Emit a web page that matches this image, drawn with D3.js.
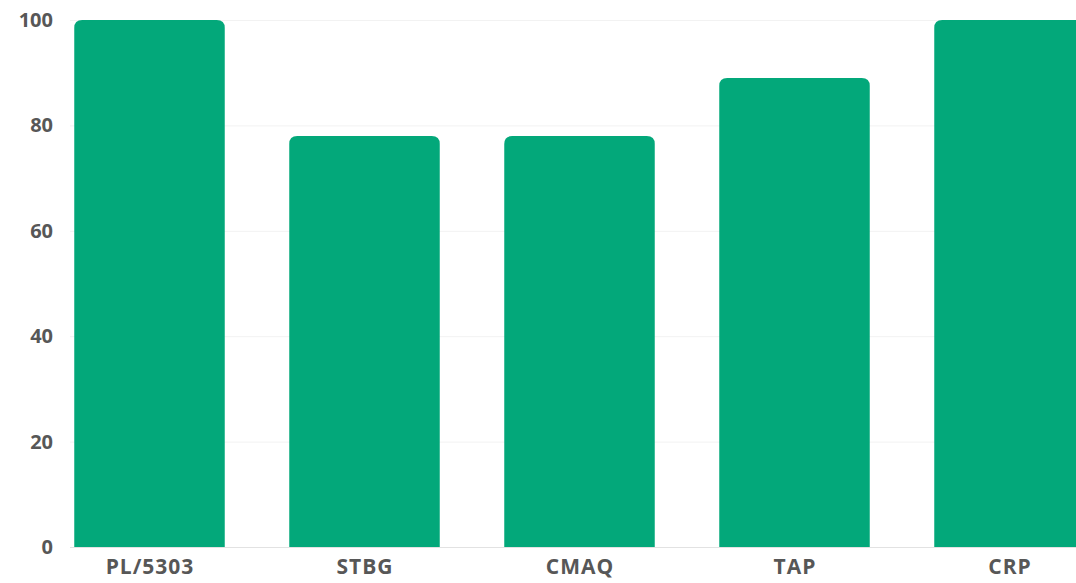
<!DOCTYPE html>
<html>
<head>
<meta charset="utf-8">
<script src="https://cdn.jsdelivr.net/npm/d3@7"></script>
<style>
  html, body { margin: 0; padding: 0; background: #fff; }
  svg { display: block; }
  .tick text { font-family: "Open Sans", sans-serif; font-weight: 700; font-size: 20px; fill: #575757; }
  .x-axis .tick text { font-size: 21px; letter-spacing: 1px; }
</style>
</head>
<body>
<svg id="chart" width="1076" height="583"></svg>
<script>
const categories = ['PL/5303', 'STBG', 'CMAQ', 'TAP', 'CRP']
const values = [100, 78, 78, 89, 100]
const yTicks = [0, 20, 40, 60, 80, 100]

const width = 1076
const height = 583
const svg = d3.select('#chart')

const x = d3.scaleBand()
  .domain(categories)
  .range([42, 1117])
  .paddingInner(0.3)
  .paddingOuter(0.15)

const y = d3.scaleLinear()
  .domain([0, 100])
  .range([547, 20])

// gridlines
svg.append('g')
  .selectAll('line')
  .data(yTicks)
  .enter()
  .append('line')
  .attr('x1', 70)
  .attr('x2', width)
  .attr('y1', d => y(d) + 0.5)
  .attr('y2', d => y(d) + 0.5)
  .attr('stroke', d => d === 0 ? '#e2e2e2' : '#f2f2f2')
  .attr('stroke-width', 1)

// bars with rounded tops
const r = 8
const barPath = d => {
  const x0 = x(d.name)
  const w = x.bandwidth()
  const y0 = y(d.value)
  const yb = y(0)
  return `M${x0},${yb}V${y0 + r}Q${x0},${y0} ${x0 + r},${y0}H${x0 + w - r}Q${x0 + w},${y0} ${x0 + w},${y0 + r}V${yb}Z`
}
svg.append('g')
  .selectAll('path')
  .data(categories.map((name, i) => ({ name, value: values[i] })))
  .enter()
  .append('path')
  .attr('d', barPath)
  .attr('fill', '#03a87a')

// y axis
svg.append('g')
  .attr('transform', 'translate(53,0)')
  .call(d3.axisLeft(y).tickValues(yTicks).tickSize(0).tickPadding(0))
  .call(g => g.select('.domain').remove())

// x axis
svg.append('g')
  .attr('class', 'x-axis')
  .attr('transform', `translate(0,${y(0)})`)
  .call(d3.axisBottom(x).tickSize(0).tickPadding(12))
  .call(g => g.select('.domain').remove())
  .call(g => g.selectAll('.tick text').attr('dx', 0.5))
</script>
</body>
</html>
